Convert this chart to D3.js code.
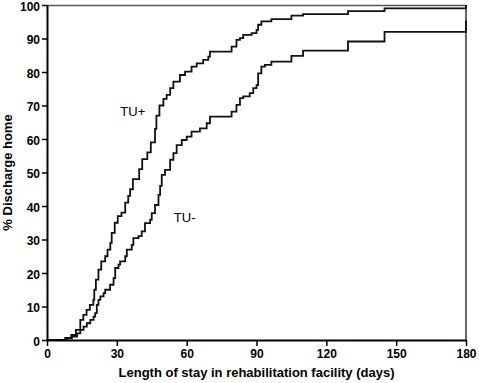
<!DOCTYPE html>
<html>
<head>
<meta charset="utf-8">
<script src="https://cdn.jsdelivr.net/npm/d3@7"></script>
<style>
  body { margin: 0; background: #fff; }
  svg { display: block; font-family: "Liberation Sans", Arial, sans-serif; }
  .tick text { font-size: 12px; font-weight: bold; fill: #000; }
</style>
</head>
<body>
<svg id="chart" width="479" height="383"></svg>
<script>
// days at which discharges happen, and cumulative % discharged home after each
const tuPlusDays = [0, 7.8, 10.4, 12.4, 14.3, 15.6, 17.0, 18.4, 19.9, 20.3, 21.0, 22.1, 23.3, 25.0, 26.0,
  27.2, 27.8, 29.1, 30.4, 32.0, 33.6, 34.9, 35.7, 36.9, 39.6, 40.9, 43.1, 44.6, 46.4, 47.0, 48.3,
  50.0, 51.4, 52.9, 54.3, 57.1, 59.3, 62.1, 64.3, 67.1, 69.3, 70.0, 79.3, 81.4, 82.9, 84.3, 87.9,
  90.0, 90.7, 92.1, 96.4, 105.0, 110.0, 129.3, 145.0, 180];
const tuPlusPct = [0, 0.6, 1.5, 3, 6, 7.5, 9, 10.5, 12, 15, 18, 21, 23.5, 25, 27,
  29, 32, 35, 37, 38, 41, 43, 45, 48, 51, 54, 56, 59, 63, 67, 70,
  72, 73.2, 75.2, 77.1, 79.1, 80.1, 81.6, 82.6, 83.6, 84.6, 86.1, 87.6, 89.6, 90.1, 91.1, 91.6,
  92.6, 94.1, 95.1, 95.8, 96.8, 97.3, 98.2, 99.0, 100];

const tuMinusDays = [0, 8.6, 10.7, 12.9, 14.3, 15.7, 17.1, 18.6, 20.0, 20.7, 21.4, 22.1, 22.9, 24.3, 25.0,
  27.1, 28.6, 29.3, 30.7, 31.4, 33.6, 34.3, 36.4, 37.1, 39.3, 40.7, 42.1, 44.3, 45.0, 46.4, 47.9,
  48.6, 49.3, 50.7, 52.9, 54.3, 55.7, 57.9, 60.0, 62.1, 65.7, 68.6, 70.0, 79.3, 81.4, 82.9, 84.3,
  87.1, 88.6, 90.0, 90.7, 92.1, 93.6, 96.4, 105.0, 110.0, 129.3, 145.0, 180];
const tuMinusPct = [0, 0.5, 1, 2, 3, 4, 5, 6, 7, 8, 10.5, 12, 13, 14, 15,
  16.5, 18.5, 21.5, 22.5, 23.5, 25, 27, 28.4, 30.4, 31, 32.4, 34.9, 35.9, 37.9, 40.3, 43.3,
  46, 49.3, 50.8, 53.8, 55.8, 58.2, 59.7, 60.7, 62.2, 63.2, 64.7, 66.7, 68.2, 70.2, 72.2, 72.7,
  73.7, 75.2, 76.1, 79.6, 81.6, 82.1, 83.1, 84.8, 86.4, 89.1, 92.0, 95.3];

const xTicks = [0, 30, 60, 90, 120, 150, 180];
const yTicks = [0, 10, 20, 30, 40, 50, 60, 70, 80, 90, 100];

const curveLabels = [
  { name: "TU+", day: 31.5, pct: 66.8 },
  { name: "TU-", day: 54.5, pct: 35.1 }
];

const margin = { top: 5, right: 13, bottom: 43, left: 47 };
const svg = d3.select("#chart");
const width = +svg.attr("width") - margin.left - margin.right;
const height = +svg.attr("height") - margin.top - margin.bottom;

const g = svg.append("g").attr("transform", `translate(${margin.left},${margin.top})`);

const x = d3.scaleLinear().domain([0, 180]).range([0, width]);
const y = d3.scaleLinear().domain([0, 100]).range([height, 0]);

const toPoints = (days, pct) => days.map((d, i) => [d, pct[i]]);

const line = d3.line()
  .x(d => x(d[0]))
  .y(d => y(d[1]))
  .curve(d3.curveStepAfter);

// frame: top and right
g.append("line")
  .attr("x1", 0).attr("x2", width)
  .attr("y1", 0.5).attr("y2", 0.5)
  .attr("stroke", "#555").attr("stroke-width", 1.5);
g.append("line")
  .attr("x1", width).attr("x2", width)
  .attr("y1", 0).attr("y2", height)
  .attr("stroke", "#000").attr("stroke-width", 1.2);

[toPoints(tuPlusDays, tuPlusPct), toPoints(tuMinusDays, tuMinusPct)].forEach(pts => {
  g.append("path")
    .datum(pts)
    .attr("fill", "none")
    .attr("stroke", "#111")
    .attr("stroke-width", 1.8)
    .attr("d", line);
});

const xAxis = g.append("g")
  .attr("transform", `translate(0,${height})`)
  .call(d3.axisBottom(x).tickValues(xTicks).tickSize(6).tickPadding(3).tickSizeOuter(0));
const yAxis = g.append("g")
  .call(d3.axisLeft(y).tickValues(yTicks).tickSize(5).tickPadding(2).tickSizeOuter(0));
// baseline of y labels sits 5px below the tick
yAxis.selectAll(".tick text").attr("dy", "5px");

[xAxis, yAxis].forEach(ax => {
  ax.select(".domain").attr("stroke", "#000").attr("stroke-width", 2);
  ax.selectAll(".tick line").attr("stroke", "#000").attr("stroke-width", 1.5);
});

g.selectAll(".curve-label")
  .data(curveLabels)
  .join("text")
  .attr("class", "curve-label")
  .attr("x", d => x(d.day))
  .attr("y", d => y(d.pct))
  .attr("font-size", 13)
  .text(d => d.name);

svg.append("text")
  .attr("x", margin.left + width / 2)
  .attr("y", 377)
  .attr("text-anchor", "middle")
  .attr("font-size", 13)
  .attr("font-weight", "bold")
  .text("Length of stay in rehabilitation facility (days)");

svg.append("text")
  .attr("transform", `translate(11.5,${margin.top + height / 2}) rotate(-90)`)
  .attr("text-anchor", "middle")
  .attr("font-size", 13)
  .attr("font-weight", "bold")
  .text("% Discharge home");
</script>
</body>
</html>
